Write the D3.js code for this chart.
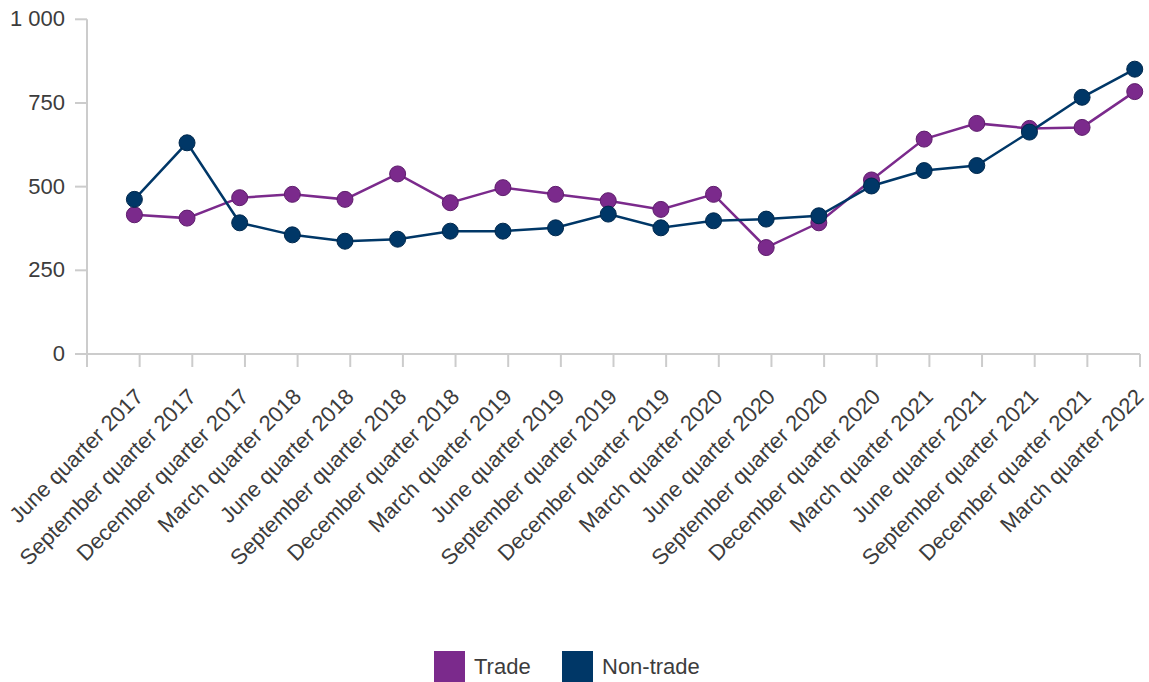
<!DOCTYPE html>
<html>
<head>
<meta charset="utf-8">
<script src="https://cdn.jsdelivr.net/npm/d3@7"></script>
<style>
  body { margin: 0; background: #fff; }
  text { font-family: "Liberation Sans", Arial, sans-serif; fill: #3c3c3c; }
</style>
</head>
<body>
<div id="chart"></div>
<script>
let dims = {
  "width": 1149,
  "height": 682,
  "left": 87,
  "right": 1140,
  "top": 19.3,
  "bottom": 354,
}

let quarters = [
  "June quarter 2017", "September quarter 2017", "December quarter 2017",
  "March quarter 2018", "June quarter 2018", "September quarter 2018", "December quarter 2018",
  "March quarter 2019", "June quarter 2019", "September quarter 2019", "December quarter 2019",
  "March quarter 2020", "June quarter 2020", "September quarter 2020", "December quarter 2020",
  "March quarter 2021", "June quarter 2021", "September quarter 2021", "December quarter 2021",
  "March quarter 2022",
]
let trade = [416, 406, 467, 477, 462, 538, 452, 497, 477, 458, 432, 477, 318, 392, 520, 642, 689, 674, 677, 784]
let nonTrade = [462, 631, 392, 356, 337, 343, 367, 367, 377, 418, 377, 398, 403, 413, 502, 548, 563, 663, 767, 851]
let yTicks = [0, 250, 500, 750, 1000]

let trade_colour = "#7b2a8c";
let nontrade_colour = "#003767";

const svg = d3.select("#chart").append("svg")
  .attr("width", dims.width)
  .attr("height", dims.height);

const x = d3.scaleBand().domain(quarters).range([dims.left, dims.right]);
const y = d3.scaleLinear().domain([0, 1000]).range([dims.bottom, dims.top]);

// points sit near the right end of each band
const px = d => x(d) + x.bandwidth() * 0.9;

// y axis
svg.append("line")
  .attr("x1", dims.left).attr("x2", dims.left)
  .attr("y1", dims.top).attr("y2", dims.bottom)
  .attr("stroke", "#ccc").attr("stroke-width", 2);
svg.selectAll(".ytick")
  .data(yTicks)
  .join("line")
  .attr("class", "ytick")
  .attr("x1", dims.left - 12).attr("x2", dims.left)
  .attr("y1", d => y(d)).attr("y2", d => y(d))
  .attr("stroke", "#ccc").attr("stroke-width", 2);
svg.selectAll(".ylabel")
  .data(yTicks)
  .join("text")
  .attr("class", "ylabel")
  .attr("x", 65)
  .attr("y", d => y(d) - 1)
  .attr("dy", "0.36em")
  .attr("text-anchor", "end")
  .style("font-size", "22px")
  .text(d => d3.format(",")(d).replace(",", " "));

// x axis
svg.append("line")
  .attr("x1", dims.left).attr("x2", dims.right)
  .attr("y1", dims.bottom).attr("y2", dims.bottom)
  .attr("stroke", "#ccc").attr("stroke-width", 2);
let boundaries = [dims.left].concat(quarters.map(d => x(d) + x.bandwidth()));
svg.selectAll(".xtick")
  .data(boundaries)
  .join("line")
  .attr("class", "xtick")
  .attr("x1", d => d).attr("x2", d => d)
  .attr("y1", dims.bottom).attr("y2", dims.bottom + 13)
  .attr("stroke", "#ccc").attr("stroke-width", 2);
svg.selectAll(".xlabel")
  .data(quarters)
  .join("text")
  .attr("class", "xlabel")
  .attr("text-anchor", "end")
  .style("font-size", "22px")
  .attr("transform", d => `translate(${x(d) + x.bandwidth() + 5},398) rotate(-45)`)
  .text(d => d);

// lines and markers
let series = [
  { name: "Trade", values: trade, colour: trade_colour, stroke: "#5e1d6c" },
  { name: "Non-trade", values: nonTrade, colour: nontrade_colour, stroke: "#00284d" },
]
const line = d3.line().x((d, i) => px(quarters[i])).y(d => y(d));

series.forEach(s => {
  svg.append("path")
    .datum(s.values)
    .attr("d", line)
    .attr("fill", "none")
    .attr("stroke", s.colour)
    .attr("stroke-width", 2.5);
  svg.selectAll(".dot-" + s.name)
    .data(s.values)
    .join("circle")
    .attr("cx", (d, i) => px(quarters[i]))
    .attr("cy", d => y(d))
    .attr("r", 8)
    .attr("fill", s.colour)
    .attr("stroke", s.stroke)
    .attr("stroke-width", 1);
});

// legend
let legendX = [434, 562];
series.forEach((s, i) => {
  svg.append("rect")
    .attr("x", legendX[i]).attr("y", 651)
    .attr("width", 31).attr("height", 31)
    .attr("fill", s.colour);
  svg.append("text")
    .attr("x", legendX[i] + 40).attr("y", 674)
    .style("font-size", "22px")
    .text(s.name);
});
</script>
</body>
</html>
